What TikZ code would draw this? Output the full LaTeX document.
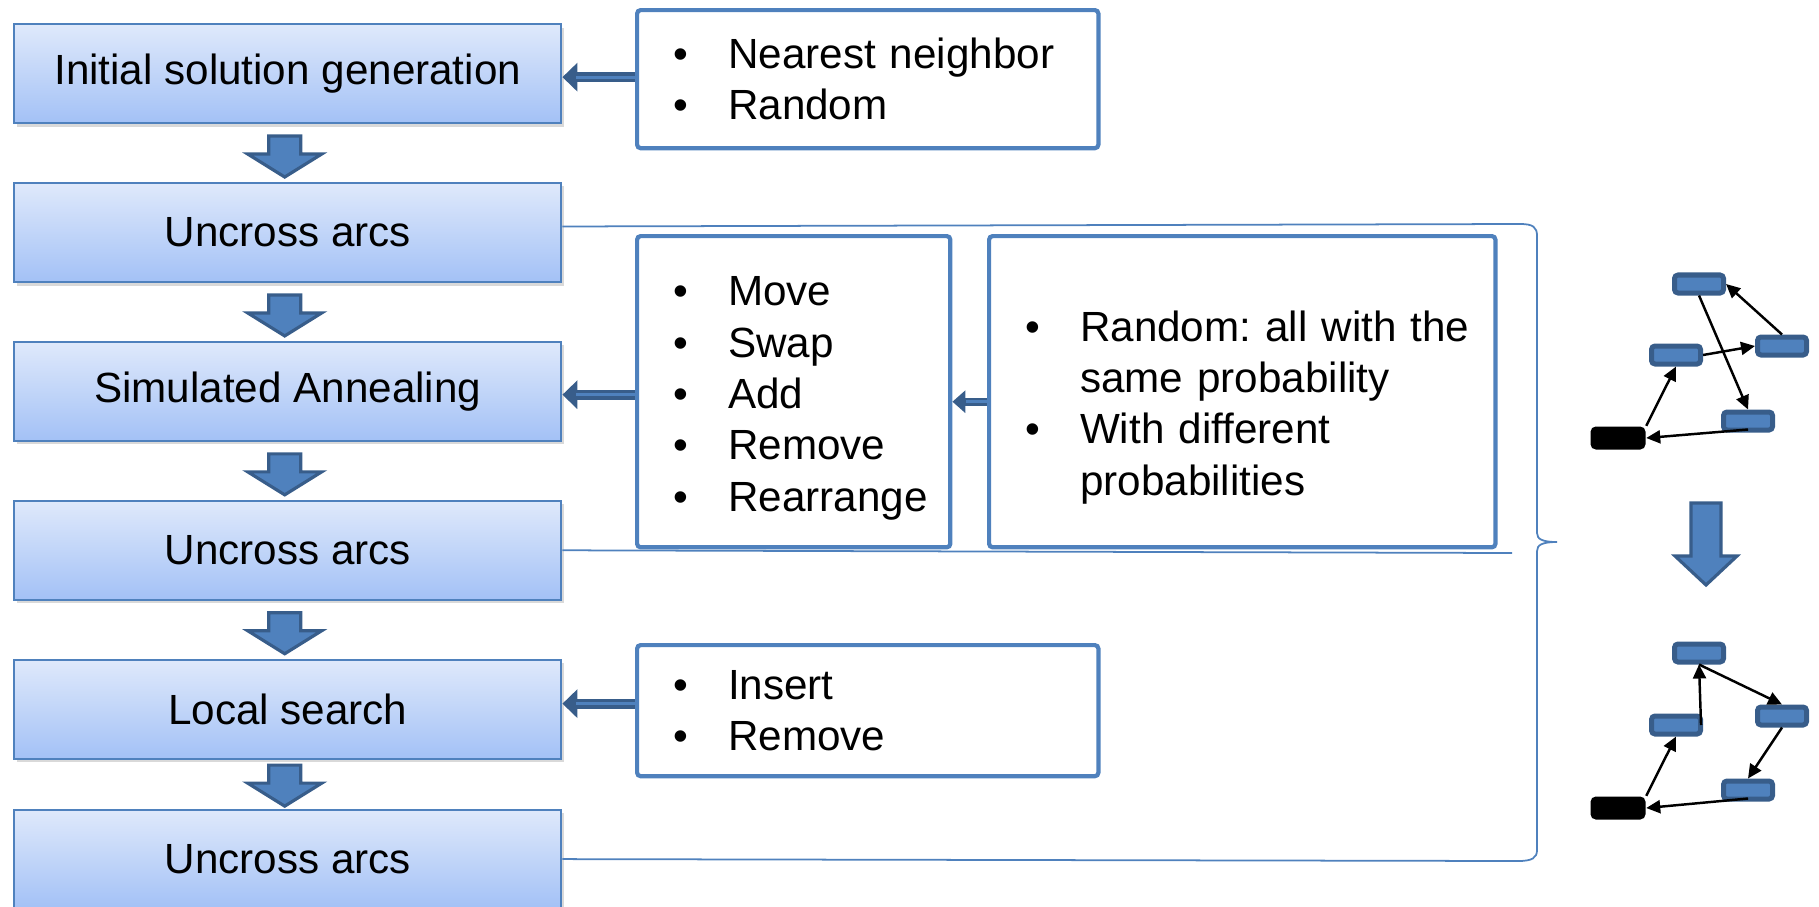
\documentclass[tikz,border=0pt]{standalone}
\usepackage{fontspec}
\setmainfont{Liberation Sans}
\usetikzlibrary{positioning}
\usetikzlibrary{calc}
\usetikzlibrary{arrows.meta}
\usetikzlibrary{shadows}

\definecolor{boxblue}{HTML}{4F81BD}
\definecolor{edgeblue}{HTML}{385D8A}
\definecolor{topfill}{HTML}{DFE9FB}
\definecolor{botfill}{HTML}{A3C1F6}

\newcommand{\bul}{\hspace*{0.36cm}\makebox[0.55cm][l]{\textbullet}}
\newcommand{\hang}{\hspace*{0.91cm}}
\newcommand{\feedarrow}[4][feed]{%
	\draw[#1] ($(#2.west)+(0,#4)$) -- ($(#3.east |- #2.west)+(0,#4)$);
	\draw[feedlight] ($(#2.west)+(0,#4)$) -- ($(#3.east |- #2.west)+(14,#4)$);}

\frenchspacing
\begin{document}
\begin{tikzpicture}[x=0.01cm,y=-0.01cm,>={Triangle[length=0.14cm,width=0.13cm]}]
			\tikzset{stage/.style = {shape=rectangle, draw=boxblue, line width=0.6pt, top color=topfill, bottom color=botfill, minimum width=5.47cm, minimum height=0.99cm, font=\fontsize{12}{14.6}\selectfont, drop shadow={shadow xshift=0.025cm, shadow yshift=-0.035cm, opacity=0.3}}}
			\tikzset{optlist/.style = {shape=rectangle, rounded corners=1pt, draw=boxblue, line width=1.2pt, align=left, inner xsep=0pt, anchor=north west, font=\fontsize{12}{14.6}\selectfont}}
			\tikzset{tour/.style = {shape=rectangle, rounded corners=1pt, draw=edgeblue, fill=boxblue, line width=0.05cm, minimum width=0.49cm, minimum height=0.18cm, inner sep=0pt}}
			\tikzset{depot/.style = {shape=rectangle, rounded corners=1.5pt, fill=black, minimum width=0.55cm, minimum height=0.23cm, inner sep=0pt}}
			\tikzset{tourarc/.style = {->, line width=0.7pt}}
			\tikzset{guide/.style = {draw=boxblue, line width=0.5pt}}
			\tikzset{blockfill/.style = {fill=boxblue, draw=edgeblue, line width=0.9pt}}
			\tikzset{feed/.style = {draw=edgeblue, line width=0.1cm, -{Triangle[length=0.15cm,width=0.28cm]}}}
			\tikzset{smallfeed/.style = {draw=edgeblue, line width=0.08cm, -{Triangle[length=0.13cm,width=0.22cm]}}}
			\tikzset{feedlight/.style = {draw=boxblue, line width=0.03cm}}
			\tikzset{flowdown/.pic = {\draw[blockfill] (-16,-17) -- (16,-17) -- (16,1) -- (37,1) -- (0,24) -- (-37,1) -- (-16,1) -- cycle;}}
			
			\useasboundingbox (0,0) rectangle (1819,906);
			
			% main flow
			\node[stage, anchor=north west] (init) at (13,23) {Initial solution generation};
			\node[stage, below=0.577cm of init] (unc1) {Uncross arcs};
			\node[stage, below=0.577cm of unc1] (sa) {Simulated Annealing};
			\node[stage, below=0.577cm of sa] (unc2) {Uncross arcs};
			\node[stage, below=0.577cm of unc2] (ls) {Local search};
			\node[stage, below=0.487cm of ls] (unc3) {Uncross arcs};
			
			\pic at ($(init.south)!0.5!(unc1.north)+(-3,0)$) {flowdown};
			\pic at ($(unc1.south)!0.5!(sa.north)+(-3,0)$) {flowdown};
			\pic at ($(sa.south)!0.5!(unc2.north)+(-3,0)$) {flowdown};
			\pic at ($(unc2.south)!0.5!(ls.north)+(-3,0)$) {flowdown};
			\pic at ($(ls.south)!0.5!(unc3.north)+(-3,-2)$) {flowdown};
			
			% option boxes
			\node[optlist, text width=4.61cm, minimum height=1.38cm] (nnlist) at (635,8)
			{\bul Nearest neighbor\\
				\bul Random};
			\node[optlist, text width=3.13cm, minimum height=3.11cm] (movelist) at (635,234)
			{\bul\rule{0pt}{12pt}Move\\
				\bul Swap\\
				\bul Add\\
				\bul Remove\\
				\bul Rearrange};
			\node[optlist, text width=5.06cm, minimum height=3.11cm] (problist) at (987,234)
			{\bul\rule{0pt}{17.5pt}Random: all with the\\
				\hang same probability\\
				\bul With different\\
				\hang probabilities};
			\node[optlist, text width=4.61cm, minimum height=1.31cm] (lslist) at (635,643)
			{\bul Insert\\
				\bul Remove};
			
			\feedarrow{nnlist}{init}{-2}
			\feedarrow{movelist}{sa}{3}
			\feedarrow[smallfeed]{problist}{movelist}{10}
			\feedarrow{lslist}{ls}{-7}
			
			% bracket over the uncross steps
			\coordinate (btop) at (1520,224);
			\coordinate (bmid) at (1512,553);
			\coordinate (bbot) at (1518,861);
			\draw[guide] ($(unc1.east)+(0,-6)$) -- (btop);
			\draw[guide] (unc2.east) -- (bmid);
			\draw[guide] (unc3.east) -- (bbot);
			\draw[guide] (btop) .. controls (1533,224) and (1537,227) .. (1537,236) -- (1537,533)
				.. controls (1537,539) and (1542,542) .. (1557,542)
				.. controls (1542,542) and (1537,545) .. (1537,551) -- (1537,850)
				.. controls (1537,858) and (1532,861) .. (bbot);
			
			% tour before
			\node[tour] (ta) at (1699,284) {};
			\node[tour] (tb) at (1782,346) {};
			\node[tour] (tc) at (1676,355) {};
			\node[tour] (td) at (1748,421) {};
			\node[depot] (te) at (1618,438) {};
			\draw[tourarc] (te.north east) -- (tc.south);
			\draw[tourarc] (tc.east) -- (tb.west);
			\draw[tourarc] (tb.north) -- (ta.east);
			\draw[tourarc] (ta.south) -- (td.north);
			\draw[tourarc] ($(td.south)+(0,-3)$) -- (te.east);
			
			\draw[blockfill] (1691,503) -- (1721,503) -- (1721,556) -- (1737,556) -- (1706,585) -- (1675,556) -- (1691,556) -- cycle;
			
			% tour after
			\node[tour] (ba) at (1699,653) {};
			\node[tour] (bb) at (1782,716) {};
			\node[tour] (bc) at (1676,725) {};
			\node[tour] (bd) at (1748,790) {};
			\node[depot] (be) at (1618,808) {};
			\draw[tourarc] (be.north east) -- (bc.south);
			\draw[tourarc] ($(bc.east)+(-2,0)$) -- (ba.south);
			\draw[tourarc] (ba.south) -- (bb.north);
			\draw[tourarc] (bb.south) -- (bd.north);
			\draw[tourarc] ($(bd.south)+(0,-3)$) -- (be.east);
			
\end{tikzpicture}
\end{document}
